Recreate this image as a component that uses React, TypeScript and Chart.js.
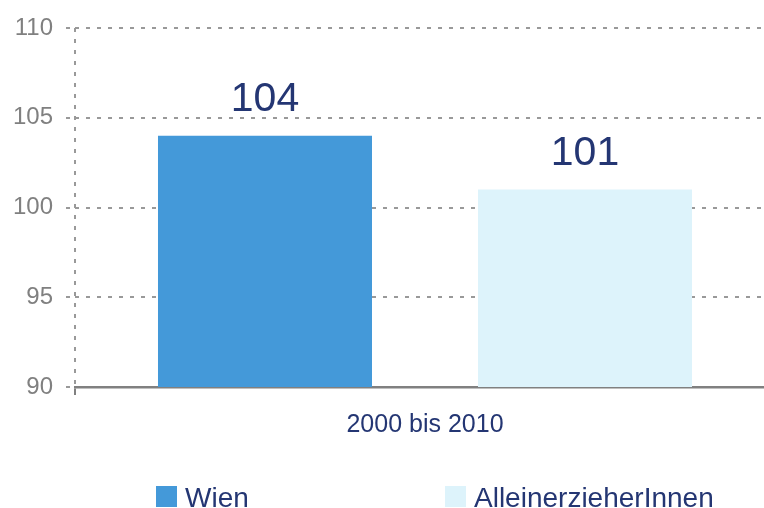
import React, { useEffect, useRef } from "react";
import { Chart, registerables } from "chart.js";

Chart.register(...registerables);

const categories = ["2000 bis 2010"];
const seriesNames = ["Wien", "AlleinerzieherInnen"];
const wienValues = [104];
const alleinValues = [101];
const yTicks = [90, 95, 100, 105, 110];
const seriesColors = ["#4499D9", "#DDF3FB"];

const FONT = "'Liberation Sans', Arial, Helvetica, sans-serif";
const NAVY = "#243673";
const GRAY = "#808080";
const GRID = "#999999";
const DASH = [4, 7];

export default function App() {
  const ref = useRef<HTMLCanvasElement>(null);

  useEffect(() => {
    const canvas = ref.current;
    if (!canvas) return;

    const dataLabels = {
      id: "dataLabels",
      afterDatasetsDraw(chart: any) {
        const ctx = chart.ctx;
        ctx.save();
        ctx.font = `41px ${FONT}`;
        ctx.fillStyle = NAVY;
        ctx.textAlign = "center";
        ctx.textBaseline = "alphabetic";
        chart.data.datasets.forEach((ds: any, i: number) => {
          const meta = chart.getDatasetMeta(i);
          meta.data.forEach((bar: any, j: number) => {
            ctx.fillText(String(ds.data[j]), bar.x, bar.y - 25);
          });
        });
        ctx.restore();
      },
    };

    const customLegend = {
      id: "customLegend",
      afterDraw(chart: any) {
        const ctx = chart.ctx;
        ctx.save();
        ctx.font = `28px ${FONT}`;
        const box = 21;
        const gapText = 8;
        const itemStep = 289;
        let x = chart.chartArea.left + 81;
        const boxTop = 486;
        const baseline = 507;
        chart.data.datasets.forEach((ds: any) => {
          ctx.fillStyle = ds.backgroundColor;
          ctx.fillRect(x, boxTop, box, box);
          ctx.fillStyle = NAVY;
          ctx.textAlign = "left";
          ctx.textBaseline = "alphabetic";
          ctx.fillText(ds.label, x + box + gapText, baseline);
          x += itemStep;
        });
        ctx.restore();
      },
    };

    const chart = new Chart(canvas, {
      type: "bar",
      data: {
        labels: categories,
        datasets: [
          {
            label: seriesNames[0],
            data: wienValues,
            backgroundColor: seriesColors[0],
            categoryPercentage: 0.9143,
            barPercentage: 0.66875,
          },
          {
            label: seriesNames[1],
            data: alleinValues,
            backgroundColor: seriesColors[1],
            categoryPercentage: 0.9143,
            barPercentage: 0.66875,
          },
        ],
      },
      options: {
        responsive: false,
        animation: false,
        devicePixelRatio: 1,
        layout: { padding: { top: 28, left: 0, right: 0, bottom: 0 } },
        plugins: {
          legend: { display: false },
          tooltip: { enabled: false },
        },
        scales: {
          x: {
            grid: {
              drawOnChartArea: true,
              drawTicks: true,
              tickLength: 8,
              color: GRID,
              lineWidth: 2,
              tickColor: GRAY,
              tickWidth: 2,
              tickBorderDash: [],
            },
            border: { color: GRAY, width: 2.5, dash: DASH },
            ticks: {
              color: NAVY,
              font: { family: FONT, size: 25 },
              padding: 15,
            },
            afterFit: (s: any) => {
              s.height = 121;
            },
          },
          y: {
            min: 90,
            max: 110,
            afterBuildTicks: (s: any) => {
              s.ticks = yTicks.map((v) => ({ value: v }));
            },
            grid: {
              color: GRID,
              lineWidth: 2,
              drawTicks: true,
              tickLength: 9,
              tickColor: GRID,
              tickWidth: 2,
              tickBorderDash: DASH,
            },
            border: { display: false, dash: DASH },
            ticks: {
              color: GRAY,
              font: { family: FONT, size: 24 },
              padding: 13,
            },
            afterFit: (s: any) => {
              s.width = 75;
            },
          },
        },
      },
      plugins: [dataLabels, customLegend],
    } as any);

    return () => chart.destroy();
  }, []);

  return (
    <div
      style={{
        position: "fixed",
        left: 0,
        top: 0,
        width: 764,
        height: 508,
        overflow: "hidden",
        background: "#ffffff",
      }}
    >
      <canvas ref={ref} width={775} height={508} style={{ display: "block" }} />
    </div>
  );
}
